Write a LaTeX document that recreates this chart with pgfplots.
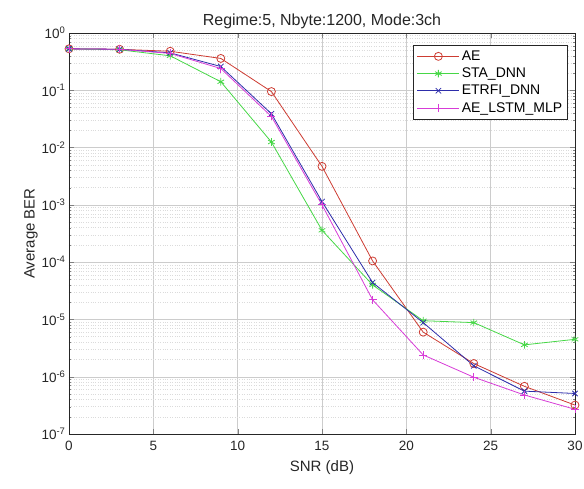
\documentclass[border=0pt]{standalone}
\usepackage{pgfplots}
\pgfplotsset{compat=1.18}
\usepackage{fontspec}
\setmainfont{Liberation Sans}
\definecolor{cAE}{RGB}{205,60,50}
\definecolor{cSTA}{RGB}{70,215,70}
\definecolor{cET}{RGB}{45,45,170}
\definecolor{cLS}{RGB}{215,60,215}
\begin{document}
\begin{tikzpicture}
\begin{axis}[
  at={(0pt,0pt)}, anchor=south west,
  scale only axis, width=506pt, height=401pt,
  xmin=0, xmax=30, ymode=log, ymin=1e-7, ymax=1,
  xtick={0,5,...,30},
  ytick={1e-7,1e-6,1e-5,1e-4,1e-3,1e-2,1e-1,1},
  yticklabels={10\textsuperscript{-7},10\textsuperscript{-6},10\textsuperscript{-5},10\textsuperscript{-4},10\textsuperscript{-3},10\textsuperscript{-2},10\textsuperscript{-1},10\textsuperscript{0}},
  /pgf/number format/assume math mode=true,
  tick label style={font=\fontsize{13.5}{15}\selectfont, text=black!85},
  xticklabel style={yshift=-4pt},
  tick align=inside, tick pos=both,
  major tick length=5pt, minor tick length=2.5pt,
  grid=both,
  major grid style={gray!40, line width=0.4pt},
  minor grid style={gray!28, dotted, line width=0.4pt},
  axis line style={black!85, line width=0.5pt},
  xlabel={SNR (dB)}, ylabel={Average BER},
  label style={font=\fontsize{15}{17}\selectfont, text=black!85},
  xlabel style={yshift=-3pt},
  ylabel style={yshift=-3pt},
  title={Regime:5, Nbyte:1200, Mode:3ch},
  title style={font=\fontsize{16}{18}\selectfont, yshift=-5pt, text=black!85},
  legend style={at={(rel axis cs:0.986,0.97)}, anchor=north east,
    font=\fontsize{14}{16}\selectfont, draw=black!85, line width=0.5pt,
    row sep=2pt, inner sep=3.5pt, cells={anchor=west}},
  legend image code/.code={\draw[mark repeat=2,mark phase=2] plot coordinates {(0pt,0pt)(21pt,0pt)(42pt,0pt)};},
]
\addplot[cAE, line width=0.8pt, mark=o, mark size=4pt, mark options={line width=0.8pt}] coordinates {
(0,0.53)(3,0.52)(6,0.48)(9,0.36)(12,0.095)(15,0.0047)(18,1.05e-4)(21,6.0e-6)(24,1.7e-6)(27,6.8e-7)(30,3.2e-7)};
\addlegendentry{AE}
\addplot[cSTA, line width=0.8pt, mark=asterisk, mark size=3.8pt, mark options={line width=0.8pt}] coordinates {
(0,0.53)(3,0.51)(6,0.40)(9,0.141)(12,0.0125)(15,3.6e-4)(18,4.0e-5)(21,9.5e-6)(24,8.8e-6)(27,3.6e-6)(30,4.5e-6)};
\addlegendentry{STA\_DNN}
\addplot[cET, line width=0.8pt, mark=x, mark size=3.8pt, mark options={line width=0.8pt}] coordinates {
(0,0.53)(3,0.52)(6,0.45)(9,0.26)(12,0.039)(15,1.14e-3)(18,4.4e-5)(21,8.8e-6)(24,1.55e-6)(27,5.6e-7)(30,5.1e-7)};
\addlegendentry{ETRFI\_DNN}
\addplot[cLS, line width=0.8pt, mark=+, mark size=4pt, mark options={line width=0.8pt}] coordinates {
(0,0.53)(3,0.52)(6,0.44)(9,0.24)(12,0.035)(15,1.0e-3)(18,2.2e-5)(21,2.4e-6)(24,9.8e-7)(27,4.8e-7)(30,2.7e-7)};
\addlegendentry{AE\_LSTM\_MLP}
\end{axis}
\pgfresetboundingbox
\path[use as bounding box] (-69pt,-54pt) rectangle (515pt,434pt);
\end{tikzpicture}
\end{document}
